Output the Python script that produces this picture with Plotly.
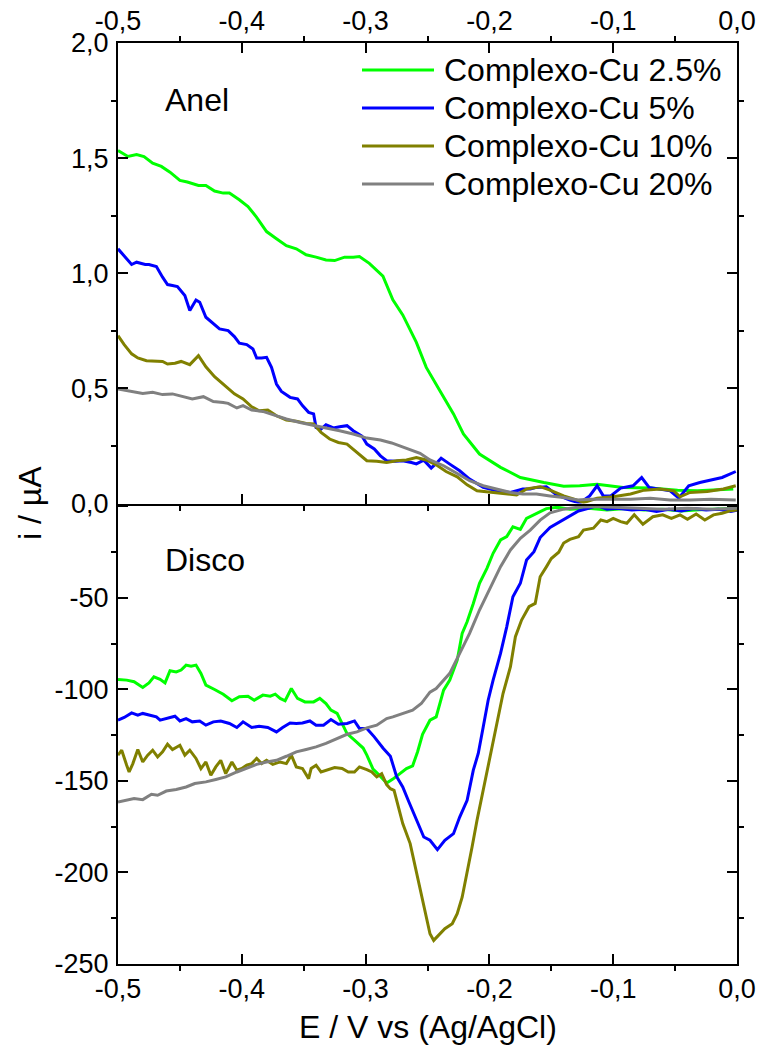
import plotly.graph_objects as go

# ---- data: ring (Anel) currents in uA, disc (Disco) currents in uA, potential in V ----
E_anel_25 = [-0.500, -0.492, -0.485, -0.479, -0.472, -0.465, -0.458, -0.450, -0.444, -0.435,
             -0.429, -0.422, -0.415, -0.410, -0.402, -0.395, -0.388, -0.380, -0.372, -0.364,
             -0.356, -0.348, -0.340, -0.332, -0.325, -0.317, -0.310, -0.305, -0.297, -0.286,
             -0.278, -0.270, -0.259, -0.251, -0.240, -0.229, -0.221, -0.208, -0.191, -0.175,
             -0.156, -0.140, -0.127, -0.113, -0.092, -0.070, -0.048, -0.032, -0.003]
i_anel_25 = [1.533, 1.507, 1.516, 1.507, 1.478, 1.464, 1.439, 1.403, 1.396, 1.381,
             1.381, 1.357, 1.348, 1.348, 1.319, 1.290, 1.243, 1.181, 1.150, 1.120,
             1.106, 1.080, 1.070, 1.058, 1.055, 1.070, 1.070, 1.073, 1.043, 0.987,
             0.885, 0.819, 0.700, 0.591, 0.490, 0.389, 0.302, 0.215, 0.157, 0.113,
             0.091, 0.075, 0.077, 0.084, 0.070, 0.067, 0.058, 0.055, 0.063]

E_anel_5 = [-0.500, -0.495, -0.489, -0.485, -0.481, -0.478, -0.475, -0.469, -0.464, -0.460,
            -0.456, -0.452, -0.446, -0.442, -0.437, -0.434, -0.429, -0.423, -0.418, -0.411,
            -0.406, -0.402, -0.396, -0.391, -0.388, -0.384, -0.380, -0.376, -0.372, -0.368,
            -0.361, -0.355, -0.351, -0.346, -0.342, -0.340, -0.336, -0.332, -0.326, -0.321,
            -0.315, -0.310, -0.303, -0.299, -0.293, -0.288, -0.283, -0.276, -0.270, -0.263,
            -0.259, -0.253, -0.247, -0.243, -0.239, -0.232, -0.224, -0.216, -0.205, -0.194,
            -0.183, -0.173, -0.167, -0.162, -0.154, -0.146, -0.135, -0.127, -0.119, -0.113,
            -0.108, -0.102, -0.094, -0.084, -0.077, -0.071, -0.062, -0.054, -0.047, -0.039,
            -0.030, -0.021, -0.012, -0.001]
i_anel_5 = [1.106, 1.077, 1.038, 1.048, 1.043, 1.038, 1.038, 1.029, 0.983, 0.951,
            0.947, 0.942, 0.903, 0.838, 0.884, 0.874, 0.809, 0.780, 0.758, 0.751,
            0.725, 0.696, 0.690, 0.671, 0.632, 0.632, 0.635, 0.591, 0.519, 0.487,
            0.461, 0.454, 0.425, 0.396, 0.389, 0.330, 0.323, 0.342, 0.328, 0.333,
            0.338, 0.316, 0.293, 0.258, 0.237, 0.207, 0.186, 0.183, 0.186, 0.178,
            0.172, 0.188, 0.154, 0.174, 0.197, 0.171, 0.142, 0.106, 0.070, 0.055,
            0.048, 0.063, 0.063, 0.070, 0.073, 0.038, 0.015, 0.002, 0.033, 0.077,
            0.033, 0.033, 0.067, 0.077, 0.113, 0.070, 0.063, 0.055, 0.023, 0.077,
            0.091, 0.102, 0.113, 0.139]

E_anel_10 = [-0.500, -0.495, -0.489, -0.484, -0.477, -0.469, -0.464, -0.460, -0.454, -0.449,
             -0.442, -0.435, -0.429, -0.422, -0.414, -0.406, -0.399, -0.392, -0.386, -0.379,
             -0.372, -0.364, -0.356, -0.348, -0.342, -0.336, -0.329, -0.322, -0.315, -0.307,
             -0.299, -0.291, -0.283, -0.275, -0.267, -0.259, -0.251, -0.243, -0.235, -0.226,
             -0.218, -0.210, -0.199, -0.189, -0.178, -0.170, -0.159, -0.151, -0.140, -0.129,
             -0.124, -0.113, -0.100, -0.086, -0.075, -0.062, -0.051, -0.046, -0.038, -0.024,
             -0.011, -0.001]
i_anel_10 = [0.729, 0.690, 0.650, 0.632, 0.620, 0.620, 0.617, 0.606, 0.609, 0.617,
             0.603, 0.642, 0.594, 0.551, 0.512, 0.476, 0.454, 0.420, 0.403, 0.406,
             0.381, 0.363, 0.357, 0.348, 0.345, 0.309, 0.280, 0.265, 0.258, 0.222,
             0.186, 0.183, 0.178, 0.186, 0.189, 0.200, 0.189, 0.168, 0.139, 0.116,
             0.081, 0.055, 0.048, 0.043, 0.037, 0.063, 0.073, 0.058, 0.033, 0.015,
             0.004, 0.023, 0.029, 0.041, 0.058, 0.063, 0.055, 0.029, 0.048, 0.052,
             0.063, 0.077]

E_anel_20 = [-0.500, -0.493, -0.487, -0.480, -0.472, -0.464, -0.456, -0.448, -0.440, -0.431,
             -0.423, -0.415, -0.411, -0.404, -0.399, -0.392, -0.383, -0.375, -0.364, -0.353,
             -0.342, -0.332, -0.321, -0.310, -0.299, -0.288, -0.279, -0.267, -0.256, -0.248,
             -0.237, -0.226, -0.216, -0.205, -0.194, -0.183, -0.173, -0.162, -0.151, -0.140,
             -0.129, -0.119, -0.102, -0.086, -0.070, -0.054, -0.038, -0.021, -0.001]
i_anel_20 = [0.497, 0.490, 0.487, 0.478, 0.483, 0.473, 0.476, 0.464, 0.454, 0.464,
             0.443, 0.439, 0.435, 0.415, 0.425, 0.406, 0.400, 0.386, 0.367, 0.352,
             0.338, 0.328, 0.316, 0.302, 0.284, 0.276, 0.263, 0.241, 0.218, 0.189,
             0.164, 0.130, 0.099, 0.077, 0.063, 0.048, 0.041, 0.041, 0.033, 0.026,
             0.015, 0.019, 0.019, 0.019, 0.023, 0.015, 0.015, 0.019, 0.015]

E_disco_25 = [-0.500, -0.493, -0.487, -0.480, -0.475, -0.471, -0.466, -0.462, -0.458, -0.453,
              -0.449, -0.445, -0.441, -0.437, -0.433, -0.429, -0.422, -0.415, -0.408, -0.402,
              -0.395, -0.390, -0.383, -0.377, -0.373, -0.369, -0.365, -0.360, -0.355, -0.349,
              -0.342, -0.337, -0.332, -0.328, -0.323, -0.319, -0.315, -0.309, -0.302, -0.299,
              -0.294, -0.288, -0.283, -0.278, -0.272, -0.267, -0.262, -0.258, -0.254, -0.248,
              -0.243, -0.237, -0.232, -0.226, -0.222, -0.218, -0.213, -0.208, -0.202, -0.197,
              -0.191, -0.186, -0.181, -0.175, -0.170, -0.162, -0.154, -0.145, -0.135, -0.120,
              -0.105, -0.090, -0.075, -0.060, -0.045, -0.030, -0.015, 0.000]
i_disco_25 = [-94.5, -94.9, -95.8, -98.9, -96.4, -93.1, -94.5, -96.4, -89.8, -90.4,
              -89.4, -86.7, -87.3, -86.7, -91.3, -97.6, -100.0, -102.6, -106.2, -104.0,
              -103.7, -105.9, -103.1, -103.7, -102.6, -104.9, -106.2, -99.5, -104.9, -106.8,
              -106.8, -104.9, -107.7, -111.3, -113.1, -118.6, -124.1, -127.7, -132.0, -135.9,
              -143.5, -147.5, -151.1, -149.0, -146.0, -143.2, -141.7, -134.0, -124.5, -116.8,
              -115.0, -100.4, -94.9, -84.0, -69.4, -63.0, -53.0, -42.0, -33.8, -25.6,
              -18.3, -16.5, -11.1, -12.5, -6.5, -4.0, -1.2, -0.5, -1.5, -1.0,
              -2.0, -1.2, -2.0, -1.5, -2.5, -1.8, -1.2, -1.0]

E_disco_5 = [-0.500, -0.495, -0.489, -0.484, -0.480, -0.475, -0.469, -0.466, -0.461, -0.454,
             -0.450, -0.445, -0.440, -0.434, -0.429, -0.423, -0.417, -0.410, -0.404, -0.399,
             -0.392, -0.386, -0.379, -0.372, -0.367, -0.361, -0.356, -0.351, -0.345, -0.340,
             -0.334, -0.328, -0.322, -0.315, -0.309, -0.305, -0.299, -0.293, -0.286, -0.280,
             -0.275, -0.270, -0.265, -0.259, -0.253, -0.248, -0.242, -0.236, -0.229, -0.224,
             -0.218, -0.213, -0.209, -0.205, -0.201, -0.197, -0.191, -0.186, -0.181, -0.175,
             -0.170, -0.164, -0.159, -0.151, -0.143, -0.135, -0.128, -0.120, -0.113, -0.105,
             -0.097, -0.085, -0.075, -0.065, -0.055, -0.045, -0.035, -0.025, -0.015, -0.005,
             0.000]
i_disco_5 = [-116.8, -115.3, -112.8, -114.1, -113.1, -114.1, -115.0, -116.8, -115.9, -114.6,
             -117.2, -115.9, -117.7, -117.2, -119.5, -117.7, -117.2, -118.6, -120.8, -117.7,
             -120.8, -120.1, -120.8, -123.2, -120.8, -118.3, -118.6, -118.3, -117.2, -119.5,
             -119.5, -116.4, -119.0, -118.6, -117.2, -121.3, -121.3, -125.9, -132.0, -136.5,
             -147.5, -153.3, -161.5, -171.5, -180.6, -182.4, -187.5, -182.4, -178.8, -169.7,
             -160.6, -144.1, -135.0, -120.5, -105.9, -94.9, -80.3, -65.8, -49.3, -42.0,
             -29.3, -24.7, -17.0, -11.5, -8.3, -5.0, -2.5, -1.0, 0.5, -1.5,
             -1.0, -2.0, -1.5, -2.8, -1.5, -2.5, -1.2, -2.0, -1.5, -2.8,
             -2.0]

E_disco_10 = [-0.500, -0.497, -0.493, -0.491, -0.488, -0.484, -0.480, -0.476, -0.472, -0.468,
              -0.464, -0.460, -0.456, -0.450, -0.446, -0.442, -0.437, -0.433, -0.429, -0.425,
              -0.421, -0.417, -0.413, -0.408, -0.404, -0.400, -0.396, -0.392, -0.388, -0.384,
              -0.380, -0.375, -0.369, -0.364, -0.360, -0.356, -0.351, -0.346, -0.344, -0.340,
              -0.336, -0.330, -0.325, -0.319, -0.314, -0.309, -0.305, -0.299, -0.295, -0.291,
              -0.287, -0.283, -0.280, -0.277, -0.274, -0.270, -0.264, -0.260, -0.256, -0.252,
              -0.248, -0.245, -0.241, -0.236, -0.230, -0.226, -0.222, -0.218, -0.214, -0.210,
              -0.205, -0.199, -0.194, -0.189, -0.183, -0.179, -0.174, -0.168, -0.163, -0.159,
              -0.154, -0.150, -0.144, -0.140, -0.135, -0.128, -0.124, -0.116, -0.110, -0.105,
              -0.100, -0.094, -0.089, -0.083, -0.076, -0.068, -0.060, -0.053, -0.046, -0.040,
              -0.033, -0.026, -0.019, -0.012, -0.005, 0.000]
i_disco_10 = [-135.9, -133.2, -141.4, -145.1, -140.5, -132.8, -139.6, -135.9, -133.2, -136.9,
              -134.1, -129.9, -132.8, -130.5, -135.9, -133.2, -137.7, -143.2, -139.6, -146.9,
              -142.3, -138.7, -146.0, -139.6, -144.1, -143.2, -141.4, -140.5, -137.7, -140.5,
              -138.7, -140.9, -139.6, -140.5, -135.9, -142.3, -143.2, -148.7, -143.2, -141.4,
              -145.1, -143.8, -142.7, -143.2, -145.1, -145.1, -142.3, -143.8, -145.1, -147.8,
              -146.0, -152.0, -154.2, -155.1, -163.0, -173.3, -184.2, -197.0, -209.8, -222.5,
              -233.5, -237.1, -234.4, -230.7, -228.0, -222.5, -213.5, -200.7, -186.1, -171.5,
              -155.1, -135.0, -120.5, -102.2, -87.6, -71.2, -62.1, -54.8, -53.0, -38.4,
              -33.0, -28.5, -25.0, -20.0, -18.0, -16.5, -12.9, -11.9, -7.4, -8.3,
              -6.5, -8.3, -9.2, -4.6, -9.7, -5.6, -4.6, -6.5, -4.6, -7.0,
              -4.1, -7.4, -4.6, -3.7, -2.3, -1.9]

E_disco_20 = [-0.500, -0.493, -0.487, -0.480, -0.473, -0.468, -0.461, -0.453, -0.445, -0.438,
              -0.429, -0.421, -0.413, -0.404, -0.396, -0.388, -0.380, -0.372, -0.364, -0.356,
              -0.348, -0.340, -0.332, -0.324, -0.315, -0.307, -0.299, -0.291, -0.283, -0.278,
              -0.270, -0.262, -0.255, -0.248, -0.243, -0.232, -0.224, -0.216, -0.208, -0.199,
              -0.191, -0.183, -0.175, -0.167, -0.159, -0.151, -0.140, -0.129, -0.115, -0.100,
              -0.080, -0.060, -0.040, -0.020, 0.000]
i_disco_20 = [-161.5, -160.6, -159.6, -160.2, -157.3, -157.8, -155.5, -154.7, -153.3, -151.4,
              -150.5, -149.2, -147.8, -145.1, -143.2, -140.9, -139.6, -138.7, -136.5, -134.1,
              -132.8, -131.4, -129.5, -127.0, -124.5, -123.2, -121.0, -119.5, -115.9, -115.0,
              -113.0, -111.3, -107.7, -101.5, -99.5, -91.2, -80.3, -69.4, -56.6, -43.9,
              -32.9, -23.8, -17.4, -12.9, -7.5, -3.5, -1.5, -0.4, 0.0, -0.5,
              -1.0, -1.5, -1.0, -1.5, -1.0]

series_names = ["Complexo-Cu 2.5%", "Complexo-Cu 5%", "Complexo-Cu 10%", "Complexo-Cu 20%"]
series_colors = ["#00FF00", "#0000FF", "#808000", "#808080"]

# ---- ticks ----
x_tickvals = [-0.5, -0.4, -0.3, -0.2, -0.1, 0.0]
x_ticklabels = ["-0,5", "-0,4", "-0,3", "-0,2", "-0,1", "0,0"]
x_minor = [-0.45, -0.35, -0.25, -0.15, -0.05]
anel_tickvals = [0.0, 0.5, 1.0, 1.5, 2.0]
anel_ticklabels = ["0,0", "0,5", "1,0", "1,5", "2,0"]
anel_minor = [0.25, 0.75, 1.25, 1.75]
disco_tickvals = [-250, -200, -150, -100, -50, 0]
disco_ticklabels = ["-250", "-200", "-150", "-100", "-50", ""]
disco_minor = [-225, -175, -125, -75, -25]

FONT = "Liberation Sans, Arial, sans-serif"
LW = 3

# page geometry of the plotting area (pixels)
W, H = 757, 1052
ML, MR, MT, MB = 118, 20, 43, 88
PW, PH = W - ML - MR, H - MT - MB


def px_x(p):
    return (p - ML) / PW


def px_y(p):
    return (H - MB - p) / PH


anel_series = [(E_anel_25, i_anel_25), (E_anel_5, i_anel_5), (E_anel_10, i_anel_10), (E_anel_20, i_anel_20)]
disco_series = [(E_disco_25, i_disco_25), (E_disco_5, i_disco_5), (E_disco_10, i_disco_10), (E_disco_20, i_disco_20)]

fig = go.Figure()
for k, (name, color) in enumerate(zip(series_names, series_colors)):
    ex, iy = anel_series[k]
    fig.add_trace(go.Scatter(x=ex, y=iy, mode="lines", name=name, legendgroup=name,
                             line=dict(color=color, width=LW), xaxis="x2", yaxis="y2"))
for k, (name, color) in enumerate(zip(series_names, series_colors)):
    ex, iy = disco_series[k]
    fig.add_trace(go.Scatter(x=ex, y=iy, mode="lines", name=name, legendgroup=name,
                             line=dict(color=color, width=LW), xaxis="x", yaxis="y"))

common = dict(showline=True, linecolor="black", linewidth=2, ticks="inside", ticklen=10,
              tickwidth=2, tickcolor="black", showgrid=False, zeroline=False, automargin=False,
              tickfont=dict(family=FONT, size=27, color="black"))
minor_common = dict(ticklen=5, tickwidth=2, tickcolor="black", showgrid=False)

# legend drawn as line samples + labels inside the ring panel
legend_rows = [70, 108, 146, 184]
shapes = []
annotations = []
for row_y, name, color in zip(legend_rows, series_names, series_colors):
    shapes.append(dict(type="line", xref="paper", yref="paper",
                       x0=px_x(362), x1=px_x(434), y0=px_y(row_y), y1=px_y(row_y),
                       line=dict(color=color, width=LW)))
    annotations.append(dict(text=name, xref="paper", yref="paper", x=px_x(442), y=px_y(row_y),
                            xanchor="left", yanchor="middle", showarrow=False,
                            font=dict(family=FONT, size=32, color="black")))

annotations += [
    dict(text="Anel", xref="paper", yref="paper", x=px_x(163), y=px_y(100),
         xanchor="left", yanchor="middle", showarrow=False,
         font=dict(family=FONT, size=32, color="black")),
    dict(text="Disco", xref="paper", yref="paper", x=px_x(163), y=px_y(560),
         xanchor="left", yanchor="middle", showarrow=False,
         font=dict(family=FONT, size=32, color="black")),
    dict(text="i / µA", xref="paper", yref="paper", x=px_x(30), y=px_y(503),
         xanchor="center", yanchor="middle", textangle=-90, showarrow=False,
         font=dict(family=FONT, size=32, color="black")),
    dict(text="E / V vs (Ag/AgCl)", xref="paper", yref="paper", x=0.5, y=px_y(1027),
         xanchor="center", yanchor="middle", showarrow=False,
         font=dict(family=FONT, size=32, color="black")),
]

fig.update_layout(
    width=W, height=H,
    margin=dict(l=ML, r=MR, t=MT, b=MB, autoexpand=False),
    paper_bgcolor="white", plot_bgcolor="white",
    font=dict(family=FONT, color="black"),
    showlegend=False,
    xaxis=dict(domain=[0, 1], range=[-0.5, 0.0], anchor="y", side="bottom",
               tickmode="array", tickvals=x_tickvals, ticktext=x_ticklabels,
               minor=dict(tickmode="array", tickvals=x_minor, **minor_common),
               ticklabelstandoff=0, **common),
    xaxis2=dict(domain=[0, 1], range=[-0.5, 0.0], anchor="y2", side="top", matches="x",
                tickmode="array", tickvals=x_tickvals, ticktext=x_ticklabels,
                minor=dict(tickmode="array", tickvals=x_minor, **minor_common),
                mirror="ticks", ticklabelstandoff=0, **common),
    yaxis=dict(domain=[0, 0.5], range=[-250, 1.6], anchor="x",
               tickmode="array", tickvals=disco_tickvals, ticktext=disco_ticklabels,
               minor=dict(tickmode="array", tickvals=disco_minor, **minor_common),
               mirror="ticks", ticklabelstandoff=2, **common),
    yaxis2=dict(domain=[0.5, 1], range=[0, 2], anchor="x2",
                tickmode="array", tickvals=anel_tickvals, ticktext=anel_ticklabels,
                minor=dict(tickmode="array", tickvals=anel_minor, **minor_common),
                mirror="ticks", ticklabelstandoff=2, **common),
    shapes=shapes,
    annotations=annotations,
)

fig.write_html("out.html")
